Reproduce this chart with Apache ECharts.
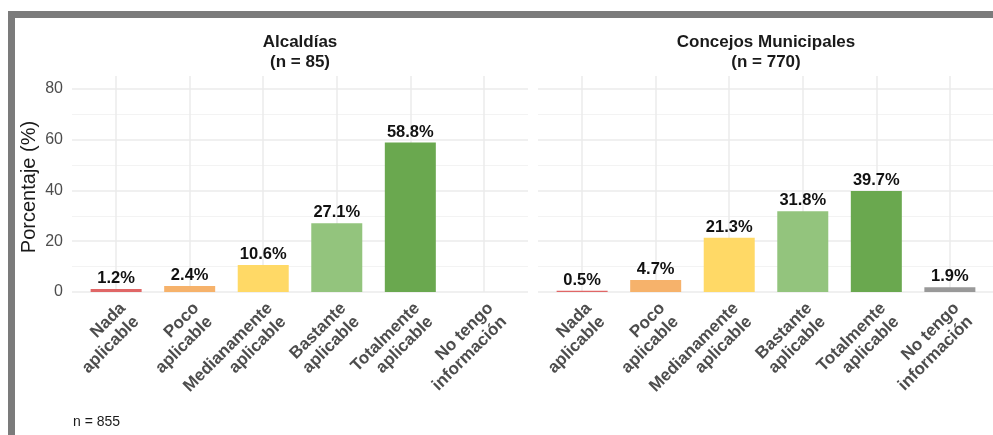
<!DOCTYPE html>
<html>
<head>
<meta charset="utf-8">
<title>Aplicabilidad</title>
<script src="https://cdn.jsdelivr.net/npm/echarts@6/dist/echarts.min.js"></script>
<style>
  html, body { margin: 0; padding: 0; background: #fff; }
  #chart { width: 993px; height: 435px; }
</style>
</head>
<body>
<div id="chart"></div>
<script>
  "use strict";
  // data
  var categories = ['Nada\naplicable', 'Poco\naplicable', 'Medianamente\naplicable',
                    'Bastante\naplicable', 'Totalmente\naplicable', 'No tengo\ninformación'];
  var alcaldias = [1.2, 2.4, 10.6, 27.1, 58.8, null];
  var concejos = [0.5, 4.7, 21.3, 31.8, 39.7, 1.9];
  var yTicks = [0, 20, 40, 60, 80];
  var panelTitles = ['Alcaldías\n(n = 85)', 'Concejos Municipales\n(n = 770)'];
  var caption = 'n = 855';
  var yTitle = 'Porcentaje (%)';

  var barColors = ['#e06666', '#f6b26b', '#ffd966', '#93c47d', '#6aa84f', '#999999'];
  var font = "'Liberation Sans', Arial, sans-serif";
  var yMax = 85;
  var majorGrid = '#ebebeb';
  var minorGrid = '#f3f3f3';

  // ggplot keeps 0.6 of a band on each side, echarts 0.5: inner grid is narrower
  var panels = [{ left: 72, data: alcaldias }, { left: 538, data: concejos }];
  var panelW = 456, band = panelW / 6.2, plotTop = 76, plotH = 216;

  var grid = [], xAxis = [], yAxis = [], series = [], title = [];

  panels.forEach(function (p, k) {
    var bg = grid.length;
    grid.push({ left: p.left, top: plotTop, width: panelW, height: plotH });
    grid.push({ left: p.left + 0.1 * band, top: plotTop, width: 6 * band, height: plotH });

    xAxis.push({ gridIndex: bg, type: 'value', min: 0, max: 1, show: false });
    xAxis.push({
      gridIndex: bg + 1,
      type: 'category',
      data: categories,
      axisLine: { show: false },
      axisTick: { show: false },
      splitLine: { show: true, interval: 0, alignWithLabel: true,
                   lineStyle: { color: majorGrid, width: 1.5 } },
      axisLabel: {
        interval: 0,
        rotate: 45,
        align: 'right',
        verticalAlign: 'top',
        margin: 7,
        fontFamily: font,
        fontSize: 17,
        fontWeight: 'bold',
        lineHeight: 19,
        color: '#4d4d4d'
      }
    });

    // major lines + labels
    yAxis.push({
      gridIndex: bg, type: 'value', min: 0, max: yMax, interval: 20,
      axisLine: { show: false },
      axisTick: { show: false },
      splitLine: { show: true, showMaxLine: false, lineStyle: { color: majorGrid, width: 1.5 } },
      axisLabel: {
        show: k === 0,
        showMaxLabel: false,
        margin: 9,
        fontFamily: font,
        fontSize: 16,
        color: '#4d4d4d',
        formatter: function (v) { return yTicks.indexOf(v) >= 0 ? String(v) : ''; }
      }
    });
    // minor lines
    yAxis.push({
      gridIndex: bg, type: 'value', min: 0, max: yMax, interval: 10,
      axisLine: { show: false },
      axisTick: { show: false },
      axisLabel: { show: false },
      splitLine: { show: true, showMaxLine: false,
                   lineStyle: { color: ['rgba(0,0,0,0)', minorGrid], width: 1 } }
    });
    var fgY = yAxis.length;
    yAxis.push({ gridIndex: bg + 1, type: 'value', min: 0, max: yMax, show: false });

    series.push({
      type: 'bar',
      xAxisIndex: xAxis.length - 1,
      yAxisIndex: fgY,
      barWidth: 51,
      data: p.data.map(function (v, i) {
        return { value: v == null ? '-' : v, itemStyle: { color: barColors[i] } };
      }),
      label: {
        show: true,
        position: 'top',
        distance: 2,
        fontFamily: font,
        fontSize: 16.5,
        fontWeight: 'bold',
        color: '#111',
        formatter: function (d) { return d.value.toFixed(1) + '%'; }
      }
    });

    title.push({
      text: panelTitles[k],
      left: p.left + panelW / 2,
      top: 32,
      textAlign: 'center',
      padding: 0,
      textStyle: { fontFamily: font, fontSize: 17, fontWeight: 'bold',
                   color: '#1a1a1a', lineHeight: 20 }
    });
  });

  var option = {
    backgroundColor: '#fff',
    animation: false,
    title: title,
    grid: grid,
    xAxis: xAxis,
    yAxis: yAxis,
    series: series,
    graphic: [
      // screenshot frame
      { type: 'rect', shape: { x: 8, y: 11, width: 985, height: 7 }, style: { fill: '#7b7b7b' } },
      { type: 'rect', shape: { x: 8, y: 11, width: 7, height: 424 }, style: { fill: '#7b7b7b' } },
      {
        type: 'text', x: 29, y: 187, rotation: Math.PI / 2,
        style: { text: yTitle, fontFamily: font, fontSize: 20, fill: '#1a1a1a',
                 align: 'center', verticalAlign: 'middle' }
      },
      {
        type: 'text', x: 73, y: 422,
        style: { text: caption, fontFamily: font, fontSize: 14, fill: '#1a1a1a',
                 align: 'left', verticalAlign: 'middle' }
      }
    ]
  };

  var chart = echarts.init(document.getElementById('chart'));
  chart.setOption(option);
</script>
</body>
</html>
